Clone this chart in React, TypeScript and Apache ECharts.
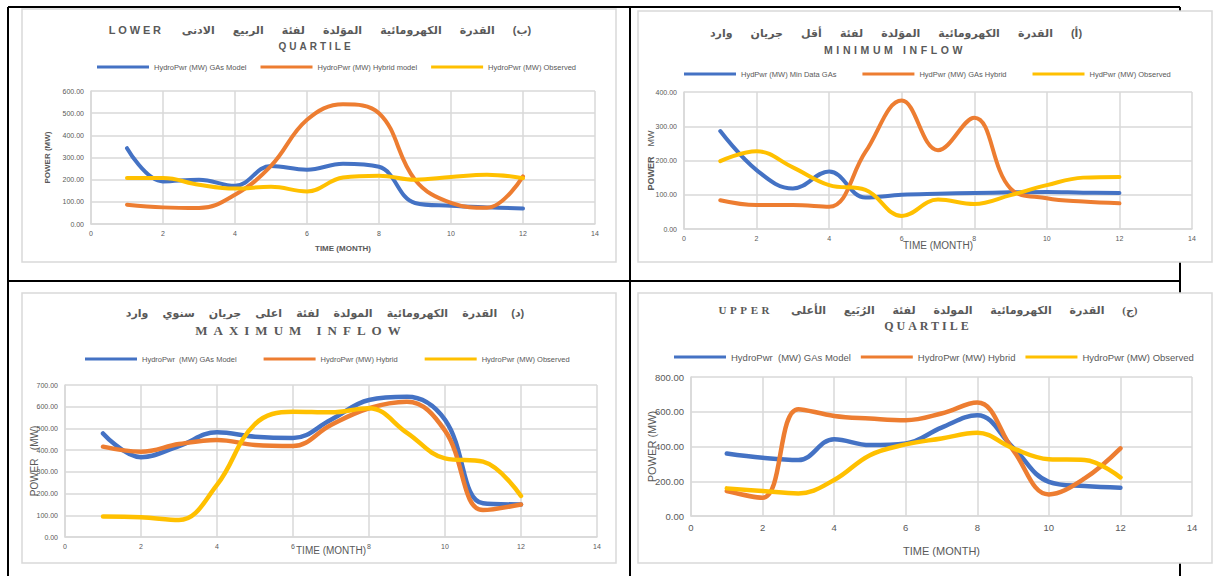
import React, { useEffect, useRef } from "react";
import * as echarts from "echarts";

// ---------- data ----------
const months = [1, 2, 3, 4, 5, 6, 7, 8, 9, 10, 11, 12];

// (ب) lower quartile
const lqGas = [342, 192, 200, 172, 262, 245, 272, 258, 95, 82, 75, 70];
const lqHybrid = [87, 75, 72, 132, 262, 470, 540, 500, 200, 95, 73, 215];
const lqObs = [207, 207, 177, 160, 168, 147, 210, 218, 200, 212, 222, 207];

// (أ) minimum inflow
const minGas = [286, 172, 118, 168, 92, 100, 103, 105, 107, 108, 106, 105];
const minHybrid = [84, 70, 70, 65, 225, 375, 230, 325, 118, 90, 80, 75];
const minObs = [198, 227, 180, 128, 114, 38, 86, 73, 99, 128, 150, 152];

// (د) maximum inflow
const maxGas = [477, 367, 419, 482, 462, 456, 540, 631, 646, 540, 155, 150];
const maxHybrid = [416, 393, 428, 447, 424, 419, 516, 593, 623, 490, 124, 150];
const maxObs = [94, 91, 78, 240, 520, 577, 574, 593, 480, 362, 347, 189];

// (ج) upper quartile
const uqGas = [360, 335, 322, 442, 408, 417, 509, 580, 394, 197, 172, 163];
const uqHybrid = [144, 105, 615, 576, 561, 551, 590, 653, 379, 124, 216, 389];
const uqObs = [159, 144, 130, 207, 350, 412, 446, 479, 389, 327, 322, 222];

const BLUE = "#4472C4";
const ORANGE = "#ED7D31";
const YELLOW = "#FFC000";
const GRAY = "#595959";
const GRID = "#d9d9d9";

const RLE = "\u202B";
const PDF = "\u202C";

const SANS = "'Liberation Sans', 'DejaVu Sans', sans-serif";
const SERIF = "'Liberation Serif', 'DejaVu Sans', serif";

// spacing markers (unknown family names, skipped by the browser)
const CSS = `
text[style*="SpacedTL"] { letter-spacing: 2.8px; word-spacing: 15px; }
text[style*="SpacedTR"] { letter-spacing: 2.6px; word-spacing: 15px; }
text[style*="SpacedBL"] { letter-spacing: 2.2px; word-spacing: 11px; }
text[style*="SpacedBR"] { letter-spacing: 2.8px; word-spacing: 15px; }
text[style*="SpacedB"] { letter-spacing: 3.6px; }
text[style*="SpacedC"] { letter-spacing: 6px; }
text[style*="SpacedD"] { letter-spacing: 3px; }
`;

type Panel = {
  grid: { left: number; top: number; width: number; height: number };
  yMax: number;
  yInt: number;
  labelSize: number;
  lineWidth: number;
  names: string[];
  values: number[][];
  legend: { left: number; top: number; gap: number; size: number };
  xName: any;
  yName: any;
};

const panels: Panel[] = [
  {
    grid: { left: 91, top: 91, width: 504, height: 133 },
    yMax: 600,
    yInt: 100,
    labelSize: 7,
    lineWidth: 4,
    names: ["HydroPwr (MW) GAs Model", "HydroPwr (MW) Hybrid model", "HydroPwr (MW) Observed"],
    values: [lqGas, lqHybrid, lqObs],
    legend: { left: 97, top: 63, gap: 14, size: 7.5 },
    xName: { name: "TIME (MONTH)", gap: 20, style: { fontSize: 8, fontWeight: "bold", color: GRAY } },
    yName: { name: "POWER (MW)", gap: 40, style: { fontSize: 8, fontWeight: "bold", color: GRAY } },
  },
  {
    grid: { left: 684, top: 92, width: 508, height: 137 },
    yMax: 400,
    yInt: 100,
    labelSize: 7,
    lineWidth: 4,
    names: ["HydPwr (MW) Min Data GAs", "HydPwr (MW) GAs Hybrid", "HydPwr (MW) Observed"],
    values: [minGas, minHybrid, minObs],
    legend: { left: 684, top: 70, gap: 26, size: 7.5 },
    xName: { name: "TIME (MONTH)", gap: 11, style: { fontSize: 10, color: GRAY } },
    yName: {
      name: "{b|POWER}   {n|MW}",
      gap: 27,
      style: {
        rich: {
          b: { fontSize: 9, fontWeight: "bold", color: GRAY },
          n: { fontSize: 9, color: GRAY },
        },
      },
    },
  },
  {
    grid: { left: 65, top: 385, width: 532, height: 152 },
    yMax: 700,
    yInt: 100,
    labelSize: 7,
    lineWidth: 4.5,
    names: ["HydroPwr  (MW) GAs Model", "HydroPwr (MW) Hybrid", "HydroPwr (MW) Observed"],
    values: [maxGas, maxHybrid, maxObs],
    legend: { left: 85, top: 355, gap: 27, size: 7.5 },
    xName: { name: "TIME (MONTH)", gap: 8, style: { fontSize: 10, color: GRAY } },
    yName: { name: "POWER   (MW)", gap: 26, style: { fontSize: 10, color: GRAY } },
  },
  {
    grid: { left: 691, top: 377, width: 501, height: 139 },
    yMax: 800,
    yInt: 200,
    labelSize: 9.5,
    lineWidth: 4.5,
    names: ["HydroPwr  (MW) GAs Model", "HydroPwr (MW) Hybrid", "HydroPwr (MW) Observed"],
    values: [uqGas, uqHybrid, uqObs],
    legend: { left: 674, top: 352, gap: 10, size: 9.5 },
    xName: { name: "TIME (MONTH)", gap: 29, style: { fontSize: 11, color: GRAY } },
    yName: { name: "POWER (MW)", gap: 34, style: { fontSize: 11, color: GRAY } },
  },
];

const titles = [
  { x: 320, y: 30, text: RLE + "(ب) القدرة الكهرومائية الموَلدة لفئة الربيع الادنى LOWER" + PDF, font: "bold 11px SpacedTL, " + SANS },
  { x: 316, y: 46, text: "QUARTILE", font: "bold 10px SpacedD, " + SANS },
  { x: 896, y: 33, text: RLE + "(أ) القدرة الكهرومائية الموَلدة لفئة أقل جريان وارد" + PDF, font: "bold 11px SpacedTR, " + SANS },
  { x: 895, y: 50, text: "MINIMUM INFLOW", font: "bold 10.5px SpacedB, " + SANS },
  { x: 325, y: 313, text: RLE + "(د) القدرة الكهرومائية المولدة لفئة اعلى جريان سنوي وارد" + PDF, font: "bold 11px SpacedBL, " + SANS },
  { x: 301, y: 330, text: "MAXIMUM INFLOW", font: "bold 13px SpacedC, " + SERIF },
  { x: 928, y: 310, text: RLE + "(ج) القدرة الكهرومائية المولدة لفئة الرُبَيع الأعلى UPPER" + PDF, font: "bold 11px SpacedBR, " + SERIF },
  { x: 928, y: 326, text: "QUARTILE", font: "bold 12px SpacedD, " + SERIF },
];

const COLORS = [BLUE, ORANGE, YELLOW];

function buildOption() {
  const grid: any[] = [];
  const xAxis: any[] = [];
  const yAxis: any[] = [];
  const series: any[] = [];
  const legend: any[] = [];

  panels.forEach((p, idx) => {
    grid.push({ ...p.grid, containLabel: false });
    xAxis.push({
      type: "value",
      gridIndex: idx,
      min: 0,
      max: 14,
      interval: 2,
      axisLine: { show: true, lineStyle: { color: GRID, width: 1.5 } },
      axisTick: { show: false },
      axisLabel: { color: GRAY, fontSize: p.labelSize, fontFamily: SANS, margin: 6 },
      splitLine: { show: true, lineStyle: { color: GRID, width: 1.5 } },
      name: p.xName.name,
      nameLocation: "middle",
      nameGap: p.xName.gap,
      nameMoveOverlap: false,
      nameTextStyle: { fontFamily: SANS, ...p.xName.style },
    });
    yAxis.push({
      type: "value",
      gridIndex: idx,
      min: 0,
      max: p.yMax,
      interval: p.yInt,
      axisLine: { show: true, lineStyle: { color: GRID, width: 1.5 } },
      axisTick: { show: false },
      axisLabel: {
        color: GRAY,
        fontSize: p.labelSize,
        fontFamily: SANS,
        margin: 7,
        formatter: (v: number) => v.toFixed(2),
      },
      splitLine: { show: true, lineStyle: { color: GRID, width: 1.5 } },
      name: p.yName.name,
      nameLocation: "middle",
      nameRotate: 90,
      nameGap: p.yName.gap,
      nameMoveOverlap: false,
      nameTextStyle: { fontFamily: SANS, ...p.yName.style },
    });
    p.names.forEach((n, k) => {
      series.push({
        type: "line",
        name: n,
        xAxisIndex: idx,
        yAxisIndex: idx,
        data: months.map((m, i) => [m, p.values[k][i]]),
        smooth: 0.4,
        symbol: "none",
        color: COLORS[k],
        lineStyle: { color: COLORS[k], width: p.lineWidth, cap: "round", join: "round" },
        z: 2 + k,
      });
    });
    legend.push({
      left: p.legend.left,
      top: p.legend.top,
      orient: "horizontal",
      data: p.names.map((n, k) => ({ name: n, itemStyle: { color: COLORS[k] } })),
      icon: "rect",
      itemWidth: 52,
      itemHeight: 3,
      itemGap: p.legend.gap,
      padding: 0,
      selectedMode: false,
      textStyle: { color: GRAY, fontSize: p.legend.size, fontFamily: SANS },
    });
  });

  const blackLines = [
    [8, 7, 1180, 7],
    [8, 7, 8, 576],
    [630, 7, 630, 576],
    [8, 281, 1180, 281],
    [1180, 7, 1180, 11],
    [1180, 262, 1180, 293],
    [1180, 563, 1180, 576],
  ];
  const boxes = [
    [22, 9, 594, 253],
    [638, 11, 574, 251],
    [22, 293, 594, 270],
    [638, 293, 574, 270],
  ];

  const graphic: any[] = [
    ...blackLines.map((l) => ({
      type: "line",
      z: -2,
      shape: { x1: l[0], y1: l[1], x2: l[2], y2: l[3] },
      style: { stroke: "#000", lineWidth: 2 },
    })),
    ...boxes.map((b) => ({
      type: "rect",
      z: -1,
      shape: { x: b[0], y: b[1], width: b[2], height: b[3] },
      style: { fill: "none", stroke: GRID, lineWidth: 1.5 },
    })),
    ...titles.map((t) => ({
      type: "text",
      x: t.x,
      y: t.y,
      style: { text: t.text, font: t.font, fill: GRAY, align: "center", verticalAlign: "middle" },
    })),
  ];

  return {
    animation: false,
    backgroundColor: "#ffffff",
    grid,
    xAxis,
    yAxis,
    series,
    legend,
    graphic,
  };
}

export default function App() {
  const ref = useRef<HTMLDivElement>(null);
  useEffect(() => {
    const chart = echarts.init(ref.current!, null, { renderer: "svg" });
    chart.setOption(buildOption() as any);
    return () => chart.dispose();
  }, []);
  return (
    <>
      <style>{CSS}</style>
      <div
        ref={ref}
        style={{ position: "absolute", left: 0, top: 0, width: 1214, height: 576 }}
      />
    </>
  );
}
